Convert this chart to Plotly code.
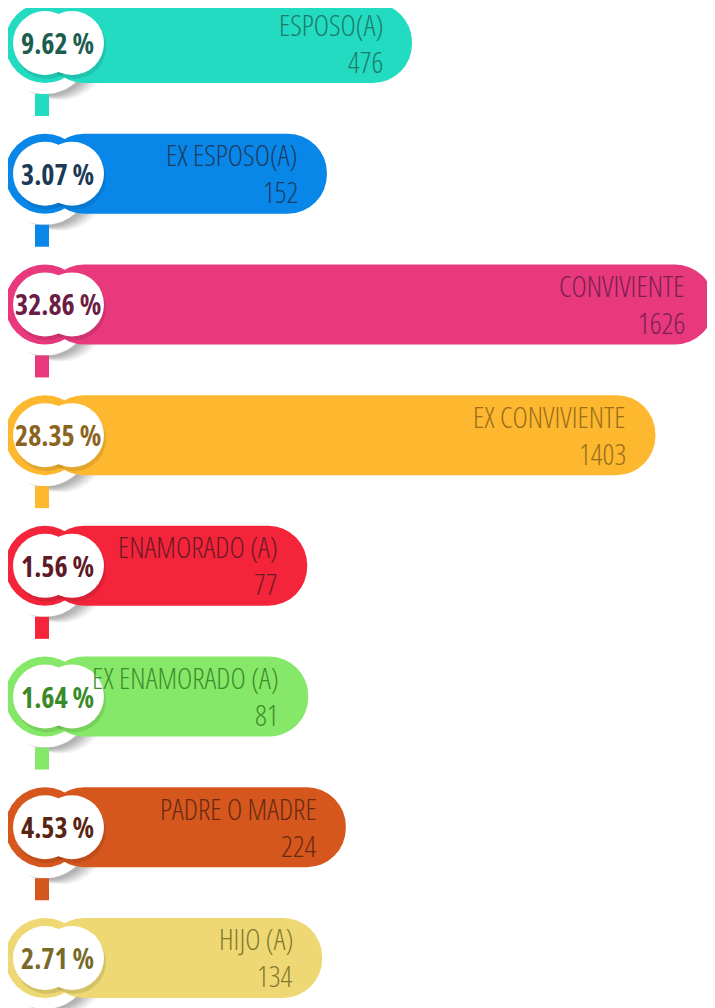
import plotly.graph_objects as go

# ---- data ----
categories = ["ESPOSO(A)", "EX ESPOSO(A)", "CONVIVIENTE", "EX CONVIVIENTE",
              "ENAMORADO (A)", "EX ENAMORADO (A)", "PADRE O MADRE", "HIJO (A)"]
counts = [476, 152, 1626, 1403, 77, 81, 224, 134]
percent_labels = ["9.62 %", "3.07 %", "32.86 %", "28.35 %", "1.56 %", "1.64 %", "4.53 %", "2.71 %"]

bar_colors = ["#22dbc1", "#0987e9", "#e8397d", "#fdb82f", "#f4253b", "#86e868", "#d6571e", "#eed873"]
label_colors = ["#1f7a68", "#1b3d62", "#7a1f4d", "#9a6e1c", "#6b1a26", "#3f8d2c", "#6a2a12", "#857830"]
pct_colors = ["#1b5e50", "#1c3a56", "#6b1d45", "#8a6420", "#5e1a26", "#3a8a28", "#5a2412", "#7a6a2a"]

# page body has an 8px margin: figure is drawn from screen pixel 8
OFF = 8
W, H = 707, 1000
X_MIN, X_MAX = -1062.5, 1629.9      # x axis range (count units)
Y_TOP, Y_BOT = -0.268, 7.383        # category axis range
BAR_BASE = -921.6                   # bars start under the left ring circle
FONT = "Open Sans, DejaVu Sans Condensed, sans-serif"


def px_x(v):
    return OFF + (v - X_MIN) / (X_MAX - X_MIN) * W


def px_y(i):
    return OFF + (i - Y_TOP) / (Y_BOT - Y_TOP) * H


def circ(cx, cy, r, color, layer, opacity=1.0):
    return dict(type="circle", xref="paper", yref="paper",
                x0=(cx - r - OFF) / W, x1=(cx + r - OFF) / W,
                y0=1 - (cy + r - OFF) / H, y1=1 - (cy - r - OFF) / H,
                fillcolor=color, line_width=0, layer=layer, opacity=opacity)


def rect(x0, y0, x1, y1, color, layer):
    return dict(type="rect", xref="paper", yref="paper",
                x0=(x0 - OFF) / W, x1=(x1 - OFF) / W,
                y0=1 - (y1 - OFF) / H, y1=1 - (y0 - OFF) / H,
                fillcolor=color, line_width=0, layer=layer)


def narrow(txt):
    return f'<span style="font-stretch:75%">{txt}</span>'


fig = go.Figure()
fig.add_trace(go.Bar(
    orientation="h", y=categories,
    x=[c - BAR_BASE for c in counts], base=BAR_BASE,
    width=0.612,
    marker=dict(color=bar_colors, cornerradius=40, line_width=0),
    hoverinfo="skip",
))

shapes = []
annotations = []
ring_cx = px_x(BAR_BASE)
for i, cat in enumerate(categories):
    yc = px_y(i)
    bottom = yc + 40
    # soft drop shadow of the hanging disc
    for dx, dy, op in [(16, 6, 0.10), (13, 5, 0.14), (10, 4, 0.18), (7, 3, 0.22), (4, 2, 0.25)]:
        shapes.append(circ(ring_cx + dx, yc + 5 + dy, 46, "#8a8a8a", "below", op))
    shapes.append(circ(ring_cx, yc + 5, 46, "#ffffff", "below"))
    # stem
    shapes.append(rect(ring_cx - 10, bottom + 11, ring_cx + 4, bottom + 33, bar_colors[i], "below"))
    # ring circle (rounded left end)
    shapes.append(circ(ring_cx, yc, 40, bar_colors[i], "below"))
    # soft shade under the white double disc
    shapes.append(circ(ring_cx + 2, yc + 4, 32, "rgba(0,0,0,0.10)", "above"))
    shapes.append(circ(ring_cx + 29, yc + 4, 32, "rgba(0,0,0,0.10)", "above"))
    # white double disc
    shapes.append(circ(ring_cx, yc, 32, "#ffffff", "above"))
    shapes.append(circ(ring_cx + 27, yc, 32, "#ffffff", "above"))

    annotations.append(dict(
        xref="paper", yref="y", x=(ring_cx + 13 - OFF) / W, y=cat,
        text=narrow(percent_labels[i]), showarrow=False, xanchor="center", yanchor="middle",
        font=dict(family=FONT, size=28, color=pct_colors[i], weight=700),
    ))
    annotations.append(dict(
        xref="x", yref="y", x=counts[i], y=cat, xshift=-27, yshift=19,
        text=narrow(cat), showarrow=False, xanchor="right", yanchor="middle",
        font=dict(family=FONT, size=29, color=label_colors[i], weight=300),
    ))
    annotations.append(dict(
        xref="x", yref="y", x=counts[i], y=cat, xshift=-27, yshift=-18,
        text=narrow(str(counts[i])), showarrow=False, xanchor="right", yanchor="middle",
        font=dict(family=FONT, size=29, color=label_colors[i], weight=300),
    ))

fig.update_layout(
    width=W, height=H, margin=dict(l=0, r=0, t=0, b=0),
    paper_bgcolor="white", plot_bgcolor="white",
    showlegend=False, shapes=shapes, annotations=annotations,
    xaxis=dict(range=[X_MIN, X_MAX], visible=False, fixedrange=True),
    yaxis=dict(type="category", categoryorder="array", categoryarray=categories,
               range=[Y_BOT, Y_TOP], visible=False, fixedrange=True),
)

fig.write_html("out.html", config={"displayModeBar": False})
